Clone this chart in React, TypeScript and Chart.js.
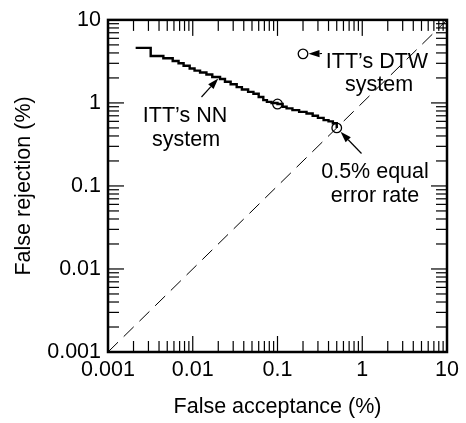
import { useEffect, useRef } from "react";
import { Chart, registerables } from "chart.js";

Chart.register(...registerables);

// Decade ticks shared by both log axes
const decadeTicks = [0.001, 0.01, 0.1, 1, 10];
const decadeLabels = ["0.001", "0.01", "0.1", "1", "10"];

// ITT's NN system: false acceptance (%) vs false rejection (%)
const nnFalseAcceptance = [
  0.00212, 0.00319, 0.0045, 0.0058, 0.0068, 0.0078, 0.0092, 0.0105, 0.0122,
  0.0145, 0.017, 0.021, 0.024, 0.028, 0.033, 0.038, 0.045, 0.052, 0.06, 0.068,
  0.075, 0.085, 0.1, 0.115, 0.128, 0.15, 0.18, 0.22, 0.26, 0.3, 0.35, 0.4,
  0.45, 0.5,
];
const nnFalseRejection = [
  4.6, 3.67, 3.45, 3.2, 3.0, 2.8, 2.6, 2.45, 2.33, 2.2, 2.05, 1.94, 1.8, 1.68,
  1.55, 1.45, 1.36, 1.29, 1.18, 1.08, 1.03, 1.0, 0.97, 0.9, 0.86, 0.82, 0.78,
  0.745, 0.7, 0.66, 0.62, 0.6, 0.57, 0.5,
];

// Marked operating points on the NN curve
const nnMarkFA = [0.1, 0.5];
const nnMarkFR = [0.97, 0.5];

// ITT's DTW system operating point
const dtwFA = [0.2];
const dtwFR = [3.9];

// Equal error line FA = FR
const eerLine = [0.001, 10];

const FONT = "'Liberation Sans', Arial, Helvetica, sans-serif";
const FONT_SIZE = 21.5;

const framePlugin = {
  id: "frameTicksNotes",
  afterDatasetsDraw(chart: any) {
    const { ctx, chartArea: a, scales } = chart;
    const xs = scales.x;
    const ys = scales.y;
    const px = (v: number) => xs.getPixelForValue(v);
    const py = (v: number) => ys.getPixelForValue(v);

    ctx.save();
    ctx.strokeStyle = "#000";
    ctx.fillStyle = "#000";

    // inward tick marks on all four sides
    const major = 16;
    const minor = 11;
    const tw = 1.2;
    for (let d = 0; d < decadeTicks.length; d++) {
      const base = decadeTicks[d];
      const maxK = d === decadeTicks.length - 1 ? 1 : 9;
      for (let k = 1; k <= maxK; k++) {
        const v = base * k;
        const len = k === 1 ? major : minor;
        const x = px(v);
        const y = py(v);
        ctx.fillRect(x - tw / 2, a.bottom - len, tw, len);
        ctx.fillRect(x - tw / 2, a.top, tw, len);
        ctx.fillRect(a.left, y - tw / 2, len, tw);
        ctx.fillRect(a.right - len, y - tw / 2, len, tw);
      }
    }

    // frame
    ctx.lineWidth = 2.5;
    ctx.strokeRect(a.left, a.top, a.right - a.left, a.bottom - a.top);

    // arrow helper: tail -> tip, tip pulled back by `gap`
    const arrow = (x0: number, y0: number, x1: number, y1: number, gap: number) => {
      const dx = x1 - x0;
      const dy = y1 - y0;
      const L = Math.hypot(dx, dy);
      const ux = dx / L;
      const uy = dy / L;
      const tx = x1 - ux * gap;
      const ty = y1 - uy * gap;
      const head = 11;
      const half = 3.6;
      const bx = tx - ux * head;
      const by = ty - uy * head;
      ctx.lineWidth = 1.2;
      ctx.beginPath();
      ctx.moveTo(x0, y0);
      ctx.lineTo(bx, by);
      ctx.stroke();
      ctx.beginPath();
      ctx.moveTo(tx, ty);
      ctx.lineTo(bx - uy * half, by + ux * half);
      ctx.lineTo(bx + uy * half, by - ux * half);
      ctx.closePath();
      ctx.fill();
    };

    // annotations
    ctx.font = `${FONT_SIZE}px ${FONT}`;
    ctx.textAlign = "center";
    ctx.textBaseline = "alphabetic";

    ctx.fillText("ITT\u2019s NN", 185, 122);
    ctx.fillText("system", 186, 146);
    arrow(201.5, 97, px(0.02), py(1.97), 0);

    ctx.fillText("ITT\u2019s DTW", 377, 68);
    ctx.fillText("system", 379, 91);
    arrow(322, 53.5, px(dtwFA[0]), py(dtwFR[0]), 5.5);

    ctx.fillText("0.5% equal", 375, 178);
    ctx.fillText("error rate", 375, 202);
    arrow(361.5, 153.5, px(nnMarkFA[1]), py(nnMarkFR[1]), 5.5);

    // axis titles
    ctx.fillText("False acceptance (%)", (a.left + a.right) / 2, 413);
    ctx.save();
    ctx.translate(30, (a.top + a.bottom) / 2);
    ctx.rotate(-Math.PI / 2);
    ctx.fillText("False rejection (%)", 0, 0);
    ctx.restore();

    ctx.restore();
  },
};

export default function App() {
  const ref = useRef<HTMLCanvasElement | null>(null);

  useEffect(() => {
    if (!ref.current) return;
    const logAxis = (pos: "x" | "y") => ({
      type: "logarithmic" as const,
      min: 0.001,
      max: 10,
      grid: { display: false, drawTicks: false },
      border: { display: false },
      afterBuildTicks: (scale: any) => {
        scale.ticks = decadeTicks.map((v) => ({ value: v }));
      },
      afterFit: (scale: any) => {
        if (pos === "x") scale.height = 71;
        else scale.width = 108;
      },
      ticks: {
        color: "#000",
        font: { family: FONT, size: FONT_SIZE },
        padding: pos === "x" ? 5 : 7,
        maxRotation: 0,
        autoSkip: false,
        callback: (v: any) => {
          const i = decadeTicks.findIndex((t) => Math.abs(t - Number(v)) < t * 1e-6);
          return i >= 0 ? decadeLabels[i] : "";
        },
      },
    });

    const chart = new Chart(ref.current, {
      type: "line",
      data: {
        datasets: [
          {
            label: "Equal error line",
            data: eerLine.map((v) => ({ x: v, y: v })),
            borderColor: "#000",
            borderWidth: 1,
            borderDash: [14, 8],
            pointRadius: 0,
            fill: false,
          },
          {
            label: "ITT's NN system",
            data: nnFalseAcceptance.map((x, i) => ({ x, y: nnFalseRejection[i] })),
            borderColor: "#000",
            borderWidth: 2.4,
            stepped: true,
            pointRadius: 0,
            fill: false,
          },
          {
            label: "NN marks",
            data: nnMarkFA.map((x, i) => ({ x, y: nnMarkFR[i] })),
            showLine: false,
            pointRadius: 4.8,
            pointBackgroundColor: "#fff",
            pointBorderColor: "#000",
            pointBorderWidth: 1.3,
          },
          {
            label: "ITT's DTW system",
            data: dtwFA.map((x, i) => ({ x, y: dtwFR[i] })),
            showLine: false,
            pointRadius: 4.8,
            pointBackgroundColor: "#fff",
            pointBorderColor: "#000",
            pointBorderWidth: 1.3,
          },
        ],
      },
      options: {
        animation: false,
        responsive: true,
        maintainAspectRatio: false,
        layout: { padding: { left: 0, top: 15, right: 19, bottom: 0 } },
        plugins: {
          legend: { display: false },
          tooltip: { enabled: false },
        },
        events: [],
        scales: {
          x: logAxis("x"),
          y: logAxis("y"),
        },
      },
      plugins: [framePlugin],
    });
    return () => chart.destroy();
  }, []);

  return (
    <div
      style={{
        position: "fixed",
        left: 0,
        top: 0,
        width: 466,
        height: 423,
        background: "#fff",
      }}
    >
      <canvas ref={ref} />
    </div>
  );
}
